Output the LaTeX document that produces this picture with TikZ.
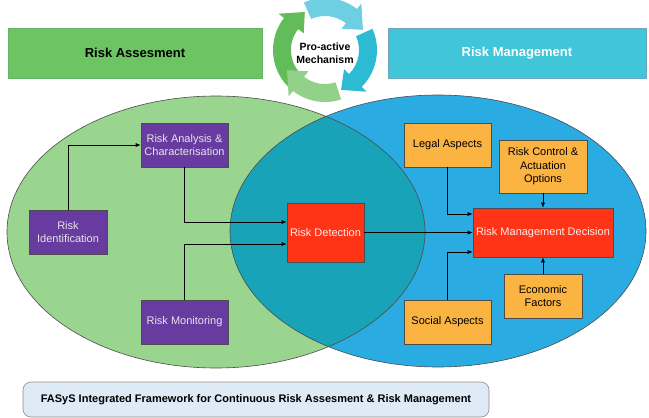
\documentclass[tikz,border=0pt]{standalone}
\usepackage{fontspec}
\setmainfont{Liberation Sans}
\usetikzlibrary{arrows.meta,calc}
\definecolor{ellG}{HTML}{99D58E}
\definecolor{ellB}{HTML}{2AABE2}
\definecolor{ellX}{HTML}{18A3B9}
\definecolor{banG}{HTML}{6CC463}
\definecolor{banB}{HTML}{40C5D9}
\definecolor{purp}{HTML}{673BA0}
\definecolor{redb}{HTML}{FF3417}
\definecolor{orab}{HTML}{FBB341}
\definecolor{botb}{HTML}{DEEAF6}
\definecolor{rG}{HTML}{62BC5A}
\definecolor{rC}{HTML}{6DD0E2}
\definecolor{rT}{HTML}{2DBAD3}
\definecolor{rL}{HTML}{92D18A}
\newcommand\ringarrow[4]{\fill[#1] (#2:52) arc[start angle=#2,end angle=#3,radius=52] -- (#3:59) -- (#4:43) -- (#3:27) -- (#3:34) arc[start angle=#3,end angle=#2,radius=34] -- cycle;}
\begin{document}
\begin{tikzpicture}[x=1pt,y=-1pt,
  box/.style={draw=black!70,line width=0.6pt,align=center,inner sep=2pt,
    font=\fontsize{11}{13.5}\selectfont},
  pbox/.style={box,fill=purp,text=white!90!black},
  rbox/.style={box,fill=redb,text=white!92!red},
  obox/.style={box,fill=orab,text=black},
  conn/.style={line width=0.6pt,-{Latex[length=5pt,width=4pt]}},
  banner/.style={line width=0.6pt,minimum width=254pt,minimum height=50pt,
    font=\fontsize{13}{15}\selectfont\bfseries}]
\useasboundingbox (0,0) rectangle (649,418);
% ellipses
\fill[ellG] (216,232) ellipse [x radius=209, y radius=136];
\fill[ellB] (438,231) ellipse [x radius=208, y radius=136];
\begin{scope}
  \clip (216,232) ellipse [x radius=209, y radius=136];
  \fill[ellX] (438,231) ellipse [x radius=208, y radius=136];
\end{scope}
\draw[black!70,line width=0.6pt] (216,232) ellipse [x radius=209, y radius=136];
\draw[black!70,line width=0.6pt] (438,231) ellipse [x radius=208, y radius=136];
% banners
\node[banner,draw=black!50!green!60,fill=banG,text=black] (ras) at (135,53) {Risk Assesment};
\node[banner,draw=black!40!cyan!70,fill=banB,text=white,minimum width=258pt] (rmg) at (517,53) {Risk Management};
% cycle
\begin{scope}[shift={(325,50)}]
  \ringarrow{rG}{130}{218}{242}
  \ringarrow{rC}{246}{308}{332}
  \ringarrow{rT}{336}{405}{428}
  \ringarrow{rL}{72}{128}{152}
\end{scope}
\node[align=center,font=\fontsize{10.5}{13}\selectfont\bfseries] (pam) at (325,53) {Pro-active\\Mechanism};
% boxes
\node[pbox,minimum width=87pt,minimum height=44pt] (ra) at (184.5,145) {Risk Analysis \&\\Characterisation};
\node[pbox,minimum width=78pt,minimum height=44pt] (ri) at (68,232) {Risk\\Identification};
\node[pbox,minimum width=87pt,minimum height=44pt] (rm) at (184.5,322) {Risk Monitoring};
\node[rbox,minimum width=77pt,minimum height=59pt] (rd) at (325.5,232.5) {Risk Detection};
\node[obox,minimum width=87pt,minimum height=44pt] (la) at (447.5,145) {Legal Aspects};
\node[obox,minimum width=88pt,minimum height=53pt] (rc) at (543,166.5) {Risk Control \&\\Actuation\\Options};
\node[rbox,minimum width=140pt,minimum height=49pt] (rmd) at (543,232.5) {Risk Management Decision};
\node[obox,minimum width=78pt,minimum height=44pt] (ef) at (543,296) {Economic\\Factors};
\node[obox,minimum width=87pt,minimum height=44pt] (sa) at (447.5,322) {Social Aspects};
% connectors
\draw[conn] (ri.north) |- (ra.west);
\draw[conn] (ra.south) |- ($(rd.west)+(0,-10.5)$);
\draw[conn] (rm.north) |- ($(rd.west)+(0,11.5)$);
\draw[conn] (rd.east) -- (rmd.west);
\draw[conn] (la.south) |- ($(rmd.west)+(0,-18.5)$);
\draw[conn] (sa.north) |- ($(rmd.west)+(0,19.5)$);
\draw[conn] (rc.south) -- (rmd.north);
\draw[conn] (ef.north) -- (rmd.south);
% bottom banner
\node[draw=black!45,fill=botb,rounded corners=8pt,line width=0.6pt,minimum width=466pt,minimum height=35pt,
  font=\fontsize{11}{13}\selectfont\bfseries] (fw) at (256,399.5) {FASyS Integrated Framework for Continuous Risk Assesment \& Risk Management};
\end{tikzpicture}
\end{document}
